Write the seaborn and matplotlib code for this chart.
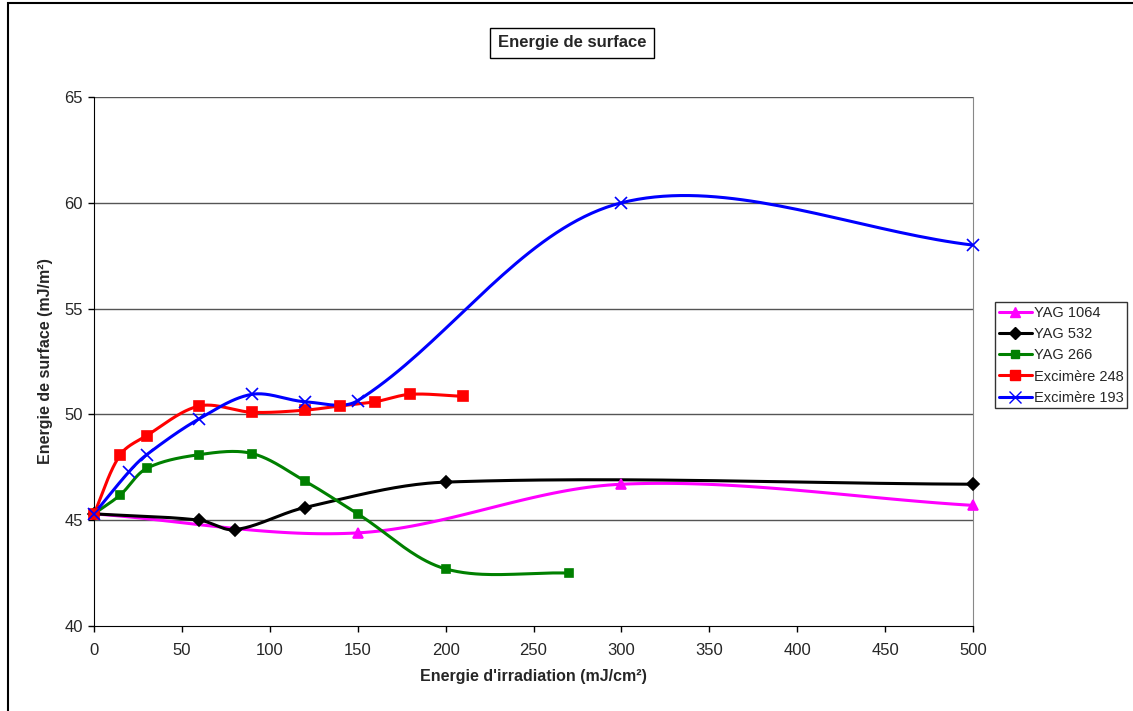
import numpy as np
import pandas as pd
import matplotlib
matplotlib.use('Agg')
import matplotlib.pyplot as plt
import seaborn as sns
from matplotlib.patches import Rectangle
from matplotlib.lines import Line2D

# valeurs
yag1064_x = [0, 150, 300, 500]
yag1064_y = [45.3, 44.4, 46.7, 45.7]

yag532_x = [0, 60, 80, 120, 200, 500]
yag532_y = [45.3, 45.0, 44.55, 45.6, 46.8, 46.7]

yag266_x = [0, 15, 30, 60, 90, 120, 150, 200, 270]
yag266_y = [45.3, 46.2, 47.45, 48.1, 48.15, 46.85, 45.3, 42.7, 42.5]

exc248_x = [0, 15, 30, 60, 90, 120, 140, 160, 180, 210]
exc248_y = [45.3, 48.1, 49.0, 50.4, 50.1, 50.2, 50.4, 50.6, 50.95, 50.85]

exc193_x = [0, 20, 30, 60, 90, 120, 150, 300, 500]
exc193_y = [45.3, 47.3, 48.1, 49.8, 50.95, 50.6, 50.65, 60.0, 58.0]

series = [
    ('YAG 1064', yag1064_x, yag1064_y, '#ff00ff', '^', 7),
    ('YAG 532', yag532_x, yag532_y, 'black', 'D', 6),
    ('YAG 266', yag266_x, yag266_y, 'green', 's', 6),
    ('Excimère 248', exc248_x, exc248_y, 'red', 's', 7),
    ('Excimère 193', exc193_x, exc193_y, 'blue', 'x', 8),
]

# échelle écran (px par unité) pour le lissage
SX, SY = 879 / 500, 529 / 25


# lissage façon Excel (Bezier, tangentes pondérées par la longueur des cordes)
def smooth(x, y, n=40):
    p = np.column_stack([np.array(x) * SX, np.array(y) * SY]).astype(float)
    k = len(p)
    tang = np.zeros_like(p)
    for i in range(k):
        tang[i] = p[min(i + 1, k - 1)] - p[max(i - 1, 0)]
    out = []
    for i in range(k - 1):
        p1, p2 = p[i], p[i + 1]
        d = np.linalg.norm(p2 - p1)

        def scale(j):
            dp = np.linalg.norm(p[j] - p[max(j - 1, 0)])
            dn = np.linalg.norm(p[min(j + 1, k - 1)] - p[j])
            return d / (dp + dn) / 3 if (dp + dn) > 0 else 0
        b1 = p1 + tang[i] * scale(i)
        b2 = p2 - tang[i + 1] * scale(i + 1)
        t = np.linspace(0, 1, n)[:, None]
        seg = ((1 - t) ** 3) * p1 + 3 * ((1 - t) ** 2) * t * b1 + 3 * (1 - t) * t ** 2 * b2 + t ** 3 * p2
        out.append(seg if i == 0 else seg[1:])
    c = np.vstack(out)
    return c[:, 0] / SX, c[:, 1] / SY


sns.set_style('white')
plt.rcParams['font.family'] = ['Liberation Sans', 'DejaVu Sans']

fig = plt.figure(figsize=(11.33, 7.11), dpi=100)
ax = fig.add_axes([94 / 1133, 1 - 626 / 711, (973 - 94) / 1133, (626 - 97) / 711])

handles = []
for name, x, y, c, m, ms in series:
    cx, cy = smooth(x, y)
    df = pd.DataFrame({'x': cx, 'y': cy})
    sns.lineplot(data=df, x='x', y='y', sort=False, estimator=None, color=c, lw=2.2, ax=ax, legend=False)
    ax.plot(x, y, linestyle='none', marker=m, color=c, markersize=ms, mew=1.2, zorder=3, clip_on=False)
    handles.append(Line2D([], [], color=c, marker=m, markersize=ms, lw=2.2, label=name))

ax.set_xlim(0, 500)
ax.set_ylim(40, 65)
ax.set_xticks(np.arange(0, 501, 50))
ax.set_yticks(np.arange(40, 66, 5))
ax.grid(False)
for v in range(45, 66, 5):
    ax.axhline(v, color='#555555', lw=1, zorder=0)
ax.spines['top'].set_visible(False)
ax.spines['right'].set_color('#888888')
ax.spines['left'].set_color('black')
ax.spines['bottom'].set_color('black')
ax.tick_params(axis='both', direction='out', length=4, width=1, color='black', labelsize=12, bottom=True, left=True)
ax.tick_params(axis='x', pad=8)
ax.tick_params(axis='y', pad=4)

ax.set_xlabel("Energie d'irradiation (mJ/cm²)", fontsize=11.5, fontweight='bold', labelpad=8)
ax.set_ylabel('Energie de surface (mJ/m²)', fontsize=11.5, fontweight='bold', labelpad=8)

fig.text(572 / 1133, 1 - 43 / 711, 'Energie de surface', ha='center', va='center',
         fontsize=12, fontweight='bold',
         bbox=dict(boxstyle='square,pad=0.45', fc='white', ec='black', lw=1))

leg = fig.legend(handles=handles, loc='upper left', bbox_to_anchor=(995 / 1133, 1 - 302 / 711), frameon=True,
                 fancybox=False, edgecolor='black', fontsize=10.5, handlelength=2.3,
                 handletextpad=0.1, borderpad=0.25, labelspacing=0.5, borderaxespad=0)
leg.get_frame().set_linewidth(1)

fig.patches.append(Rectangle((8 / 1133, -0.01), 1.1, 1 - 3 / 711 + 0.01, transform=fig.transFigure,
                             fill=False, ec='black', lw=1.5))

fig.savefig('out.png', dpi=100)
